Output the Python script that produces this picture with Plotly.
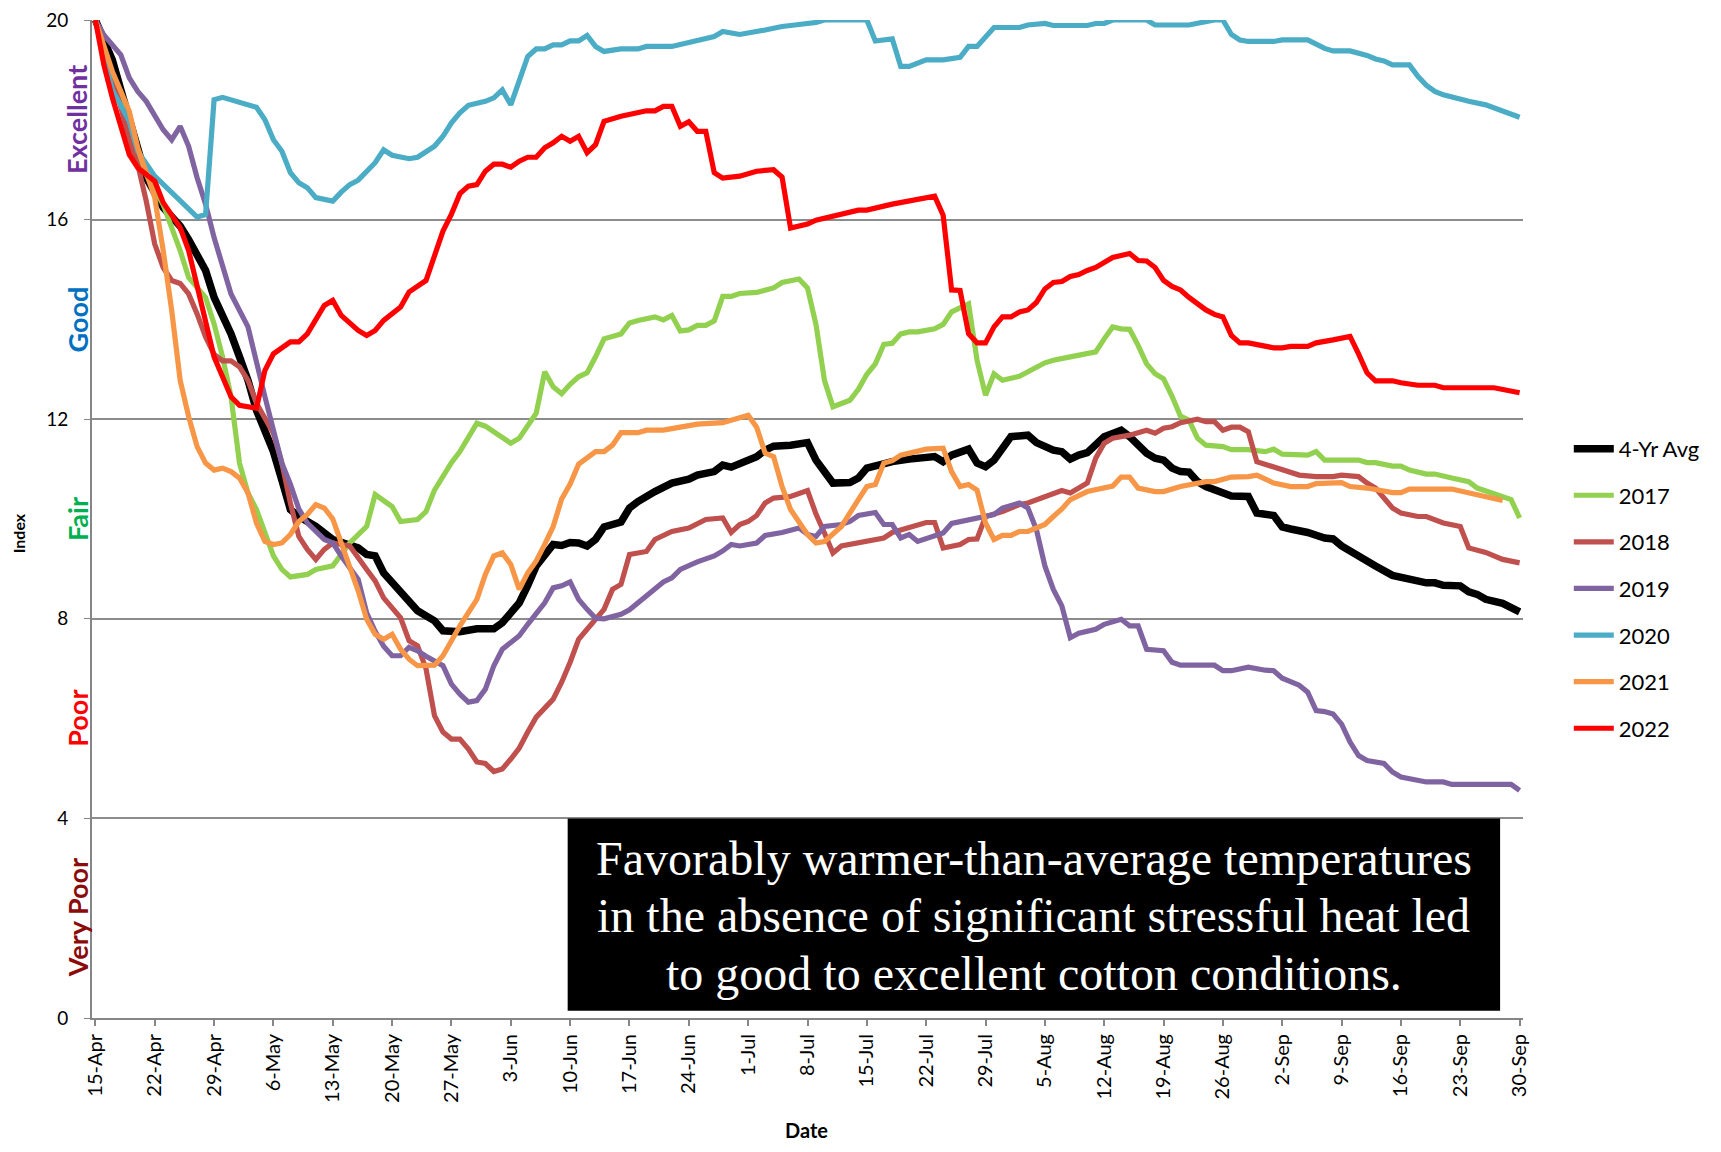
import plotly.graph_objects as go
import pandas as pd

# ---------------- data: (days since 15-Apr, index value) ----------------
avg_pts = [(0,20),(2,19.2),(3,18.6),(5,17.5),(6,16.84),(8,16.24),(10,15.87),(11,15.6),(12,15.25),(13,14.98),(14,14.44),(16,13.71),(17,13.25),(18,12.78),(19,12.18),(20,11.78),(21,11.35),(22,10.78),(23,10.19),(24,10.05),(26,9.85),(28,9.59),(29,9.52),(31,9.42),(32,9.29),(33,9.26),(34,8.92),(36,8.52),(37,8.32),(38,8.16),(40,7.96),(41,7.76),(43,7.74),(45,7.8),(47,7.8),(48,7.92),(49,8.12),(50,8.32),(51,8.67),(52,9.06),(54,9.49),(55,9.47),(56,9.53),(57,9.52),(58,9.46),(59,9.59),(60,9.84),(61,9.89),(62,9.94),(63,10.22),(64,10.35),(66,10.55),(68,10.72),(70,10.8),(71,10.88),(73,10.95),(74,11.08),(75,11.04),(76,11.12),(78,11.25),(79,11.38),(80,11.46),(82,11.48),(84,11.53),(85,11.18),(87,10.72),(89,10.73),(90,10.82),(91,11.02),(93,11.12),(94,11.15),(96,11.2),(98,11.22),(99,11.25),(100,11.15),(101,11.28),(103,11.4),(104,11.12),(105,11.05),(106,11.18),(108,11.65),(110,11.68),(111,11.53),(113,11.38),(114,11.35),(115,11.2),(116,11.28),(117,11.33),(119,11.65),(121,11.78),(122,11.65),(124,11.32),(125,11.22),(126,11.18),(127,11.02),(128,10.95),(129,10.94),(130,10.75),(131,10.65),(133,10.52),(134,10.46),(136,10.45),(137,10.12),(139,10.07),(140,9.84),(141,9.8),(143,9.73),(145,9.62),(146,9.6),(147,9.46),(149,9.24),(151,9.06),(153,8.87),(155,8.79),(157,8.72),(158,8.72),(159,8.67),(161,8.66),(162,8.54),(163,8.49),(164,8.39),(166,8.31),(168,8.14)]

y2017_pts = [(0,20),(2,18.9),(4,17.8),(6,16.9),(8,16.3),(10,15.38),(11,14.84),(13,14.44),(14,13.91),(15,13.25),(16,12.45),(17,11.12),(18,10.52),(19,10.19),(20,9.7),(21,9.26),(22,8.99),(23,8.84),(25,8.89),(26,8.99),(28,9.06),(30,9.52),(32,9.85),(33,10.49),(35,10.25),(36,9.95),(38,9.99),(39,10.15),(40,10.58),(41,10.88),(42,11.13),(43,11.35),(45,11.92),(46,11.86),(48,11.62),(49,11.52),(50,11.62),(52,12.12),(53,12.95),(54,12.65),(55,12.51),(56,12.7),(57,12.85),(58,12.93),(59,13.25),(60,13.61),(62,13.71),(63,13.93),(64,13.98),(66,14.05),(67,13.99),(68,14.08),(69,13.77),(70,13.79),(71,13.88),(72,13.88),(73,13.97),(74,14.46),(75,14.46),(76,14.52),(78,14.54),(80,14.63),(81,14.74),(83,14.81),(84,14.63),(85,13.9),(86,12.78),(87,12.25),(89,12.38),(90,12.6),(91,12.9),(92,13.11),(93,13.5),(94,13.52),(95,13.71),(96,13.75),(97,13.75),(99,13.81),(100,13.9),(101,14.15),(103,14.31),(104,13.18),(105,12.48),(106,12.91),(107,12.78),(109,12.86),(112,13.13),(113,13.18),(115,13.25),(118,13.35),(119,13.61),(120,13.85),(121,13.81),(122,13.8),(123,13.48),(124,13.11),(125,12.91),(126,12.81),(127,12.46),(128,12.06),(129,11.98),(130,11.62),(131,11.48),(133,11.45),(134,11.39),(136,11.39),(138,11.35),(139,11.4),(140,11.3),(143,11.28),(144,11.35),(145,11.18),(149,11.18),(150,11.13),(151,11.13),(153,11.06),(154,11.06),(155,10.98),(157,10.9),(158,10.9),(160,10.82),(162,10.75),(163,10.62),(165,10.5),(166,10.46),(167,10.39),(168,10.02)]

y2018_pts = [(0,20),(2,18.9),(4,17.6),(5,17.1),(6,16.37),(7,15.51),(8,15.04),(9,14.78),(10,14.72),(11,14.51),(12,14.11),(13,13.65),(14,13.3),(15,13.17),(16,13.17),(17,13.05),(18,12.78),(19,12.32),(21,11.72),(22,11.12),(23,10.32),(24,9.65),(25,9.39),(26,9.19),(27,9.39),(28,9.52),(29,9.49),(30,9.46),(32,8.99),(33,8.76),(34,8.42),(36,8.02),(37,7.56),(38,7.46),(39,7.0),(40,6.06),(41,5.73),(42,5.59),(43,5.59),(44,5.39),(45,5.13),(46,5.1),(47,4.94),(48,4.99),(49,5.19),(50,5.41),(51,5.73),(52,6.03),(54,6.39),(55,6.73),(56,7.13),(57,7.59),(58,7.79),(60,8.19),(61,8.59),(62,8.69),(63,9.29),(65,9.35),(66,9.59),(68,9.75),(70,9.82),(72,9.99),(74,10.02),(75,9.73),(76,9.89),(77,9.95),(78,10.07),(79,10.32),(80,10.42),(82,10.45),(84,10.57),(85,10.1),(86,9.72),(87,9.32),(88,9.46),(90,9.52),(93,9.62),(94,9.73),(96,9.82),(98,9.93),(99,9.93),(100,9.42),(102,9.49),(103,9.59),(104,9.6),(105,10.05),(107,10.15),(109,10.29),(110,10.32),(113,10.52),(114,10.57),(115,10.52),(117,10.72),(118,11.22),(119,11.52),(120,11.62),(122,11.68),(124,11.78),(125,11.72),(126,11.82),(127,11.85),(128,11.93),(130,12.0),(131,11.95),(132,11.95),(133,11.78),(134,11.84),(135,11.84),(136,11.75),(137,11.15),(138,11.1),(140,10.98),(141,10.95),(142,10.88),(144,10.85),(146,10.85),(147,10.88),(149,10.85),(150,10.72),(151,10.62),(152,10.42),(153,10.22),(154,10.12),(156,10.05),(157,10.05),(158,9.99),(159,9.92),(161,9.85),(162,9.42),(164,9.33),(165,9.26),(166,9.19),(168,9.12)]

y2019_pts = [(0,20),(1,19.7),(3,19.3),(4,18.84),(5,18.57),(6,18.37),(8,17.8),(9,17.6),(10,17.87),(11,17.47),(12,16.84),(13,16.31),(14,15.64),(15,15.04),(16,14.51),(18,13.85),(19,13.11),(20,12.45),(21,11.78),(22,11.12),(23,10.7),(24,10.2),(25,9.92),(27,9.59),(28,9.52),(29,9.26),(31,8.79),(32,8.12),(33,7.75),(34,7.45),(35,7.26),(36,7.26),(37,7.43),(38,7.36),(39,7.25),(41,7.06),(42,6.69),(43,6.49),(44,6.33),(45,6.36),(46,6.59),(47,7.06),(48,7.39),(50,7.66),(51,7.89),(52,8.12),(53,8.32),(54,8.62),(55,8.66),(56,8.74),(57,8.39),(58,8.19),(59,8.01),(60,8.0),(62,8.09),(63,8.18),(65,8.46),(67,8.74),(68,8.82),(69,8.99),(71,9.14),(73,9.26),(74,9.36),(75,9.49),(76,9.46),(78,9.52),(79,9.67),(81,9.73),(83,9.82),(84,9.69),(85,9.65),(86,9.85),(88,9.89),(89,9.95),(90,10.07),(92,10.13),(93,9.89),(94,9.89),(95,9.62),(96,9.69),(97,9.55),(99,9.65),(100,9.72),(101,9.91),(103,9.99),(106,10.09),(107,10.22),(109,10.32),(110,10.22),(111,9.79),(112,9.06),(113,8.59),(114,8.26),(115,7.62),(116,7.71),(118,7.79),(119,7.89),(121,7.99),(122,7.86),(123,7.86),(124,7.39),(126,7.36),(127,7.13),(128,7.07),(132,7.07),(133,6.96),(134,6.96),(136,7.03),(138,6.97),(139,6.96),(140,6.81),(141,6.73),(142,6.67),(143,6.53),(144,6.16),(145,6.14),(146,6.09),(147,5.89),(148,5.53),(149,5.26),(150,5.16),(152,5.1),(153,4.93),(154,4.83),(157,4.73),(159,4.73),(160,4.68),(167,4.68),(168,4.56)]

y2020_pts = [(0,20),(2,18.6),(4,17.97),(5,17.37),(7,16.87),(12,16.05),(13,16.1),(14,18.4),(15,18.45),(17,18.35),(19,18.25),(20,18.0),(21,17.6),(22,17.37),(23,16.94),(24,16.74),(25,16.64),(26,16.44),(28,16.37),(29,16.55),(30,16.7),(31,16.79),(32,16.97),(33,17.14),(34,17.4),(35,17.29),(37,17.22),(38,17.25),(40,17.47),(41,17.67),(42,17.94),(43,18.14),(44,18.29),(46,18.37),(47,18.44),(48,18.6),(49,18.3),(51,19.27),(52,19.42),(53,19.42),(54,19.5),(55,19.5),(56,19.58),(57,19.58),(58,19.69),(59,19.47),(60,19.37),(62,19.42),(64,19.42),(65,19.47),(68,19.47),(70,19.55),(71,19.57),(73,19.67),(74,19.77),(76,19.71),(79,19.8),(81,19.87),(83,19.91),(85,19.95),(86,20),(91,20),(92,19.58),(94,19.62),(95,19.07),(96,19.07),(98,19.2),(100,19.2),(102,19.25),(103,19.47),(104,19.47),(105,19.65),(106,19.85),(109,19.85),(110,19.9),(112,19.93),(113,19.89),(117,19.89),(118,19.93),(119,19.93),(120,20),(124,20),(125,19.9),(129,19.9),(130,19.93),(132,20),(133,20),(134,19.71),(135,19.6),(136,19.57),(139,19.57),(140,19.6),(143,19.6),(144,19.51),(145,19.43),(146,19.38),(148,19.38),(150,19.29),(151,19.22),(152,19.18),(153,19.1),(155,19.1),(156,18.87),(157,18.69),(158,18.57),(159,18.5),(160,18.45),(162,18.37),(164,18.3),(165,18.24),(166,18.16),(167,18.12),(168,18.05)]

y2021_pts = [(0,20),(2,18.97),(3,18.57),(4,18.17),(5,17.44),(6,16.91),(7,16.44),(8,15.38),(9,14.18),(10,12.78),(11,12.05),(12,11.45),(13,11.12),(14,10.98),(15,11.02),(16,10.95),(17,10.82),(18,10.52),(19,9.92),(20,9.55),(21,9.49),(22,9.52),(23,9.69),(24,9.95),(25,10.09),(26,10.29),(27,10.22),(28,10.0),(29,9.52),(30,9.02),(31,8.56),(32,7.99),(33,7.69),(34,7.59),(35,7.69),(36,7.39),(37,7.19),(38,7.06),(40,7.07),(41,7.26),(42,7.56),(43,7.86),(45,8.39),(46,8.89),(47,9.26),(48,9.32),(49,9.09),(50,8.59),(51,8.92),(52,9.16),(53,9.49),(54,9.85),(55,10.4),(56,10.7),(57,11.1),(59,11.35),(60,11.35),(61,11.48),(62,11.73),(64,11.73),(65,11.78),(67,11.78),(69,11.84),(71,11.9),(74,11.93),(76,12.02),(77,12.08),(78,11.84),(79,11.32),(80,11.25),(81,10.65),(82,10.19),(83,9.95),(84,9.69),(85,9.52),(86,9.55),(88,9.85),(89,10.1),(90,10.39),(91,10.65),(92,10.69),(93,11.12),(94,11.17),(95,11.28),(97,11.35),(98,11.4),(100,11.42),(101,10.95),(102,10.65),(103,10.69),(104,10.58),(105,9.92),(106,9.59),(107,9.67),(108,9.67),(109,9.75),(110,9.75),(112,9.89),(113,10.05),(114,10.2),(115,10.39),(117,10.55),(120,10.66),(121,10.84),(122,10.84),(123,10.62),(125,10.55),(126,10.55),(128,10.65),(131,10.75),(132,10.75),(134,10.84),(136,10.85),(137,10.88),(139,10.72),(141,10.65),(143,10.65),(144,10.71),(147,10.73),(148,10.65),(150,10.62),(153,10.53),(154,10.53),(155,10.6),(160,10.6),(163,10.49),(166,10.37)]

y2022_pts = [(0,20),(1,19.1),(2,18.44),(3,17.9),(4,17.3),(5,17.04),(7,16.77),(8,16.34),(10,15.84),(11,15.38),(12,14.64),(13,13.91),(14,13.25),(15,12.85),(16,12.45),(17,12.28),(19,12.22),(20,12.98),(21,13.31),(23,13.55),(24,13.55),(25,13.71),(26,13.98),(27,14.28),(28,14.38),(29,14.08),(31,13.78),(32,13.68),(33,13.78),(34,13.98),(36,14.25),(37,14.55),(39,14.78),(40,15.24),(41,15.77),(42,16.11),(43,16.52),(44,16.67),(45,16.7),(46,16.97),(47,17.11),(48,17.11),(49,17.05),(50,17.17),(51,17.25),(52,17.25),(53,17.44),(54,17.54),(55,17.67),(56,17.57),(57,17.67),(58,17.34),(59,17.5),(60,17.97),(62,18.07),(65,18.18),(66,18.18),(67,18.27),(68,18.27),(69,17.87),(70,17.96),(71,17.77),(72,17.77),(73,16.94),(74,16.83),(76,16.87),(78,16.97),(80,17.0),(81,16.85),(82,15.83),(84,15.91),(85,15.99),(88,16.11),(90,16.19),(91,16.19),(94,16.31),(99,16.47),(100,16.09),(101,14.59),(102,14.58),(103,13.71),(104,13.53),(105,13.53),(106,13.85),(107,14.05),(108,14.05),(109,14.15),(110,14.19),(111,14.34),(112,14.61),(113,14.74),(114,14.76),(115,14.86),(116,14.9),(117,14.98),(118,15.04),(120,15.24),(122,15.32),(123,15.18),(124,15.17),(125,15.04),(126,14.78),(127,14.66),(128,14.59),(129,14.44),(131,14.19),(132,14.1),(133,14.05),(134,13.68),(135,13.53),(136,13.53),(139,13.43),(140,13.43),(141,13.46),(143,13.46),(144,13.53),(146,13.59),(148,13.66),(149,13.31),(150,12.93),(151,12.77),(153,12.77),(154,12.73),(156,12.68),(158,12.68),(159,12.63),(165,12.63),(168,12.53)]

series_names = ["4-Yr Avg", "2017", "2018", "2019", "2020", "2021", "2022"]
series_points = [avg_pts, y2017_pts, y2018_pts, y2019_pts, y2020_pts, y2021_pts, y2022_pts]
series_colors = ["#000000", "#92D050", "#C0504D", "#8064A2", "#4BACC6", "#F79646", "#FF0000"]
series_widths = [7.5, 5.2, 5.2, 5.2, 5.2, 5.2, 5.2]

condition_labels = ["Excellent", "Good", "Fair", "Poor", "Very Poor"]
condition_centers = [18, 14, 10, 6, 2]
condition_colors = ["#7030A0", "#0070C0", "#00B050", "#FF0000", "#8B0A0A"]

note_lines = ["Favorably warmer-than-average temperatures",
              "in the absence of significant stressful heat led",
              "to good to excellent cotton conditions."]
note_line_y = [0.1597, 0.1025, 0.0444]

start = pd.Timestamp("2022-04-15")

fig = go.Figure()
for name, pts, col, w in zip(series_names, series_points, series_colors, series_widths):
    xs = [start + pd.Timedelta(days=d) for d, _ in pts]
    ys = [v for _, v in pts]
    fig.add_trace(go.Scatter(x=xs, y=ys, mode="lines", name=name, legendgroup=name,
                             line=dict(color=col, width=w, shape="linear")))

FONT = "Lato, 'Liberation Sans', Arial, sans-serif"

fig.update_layout(
    width=1705, height=1136,
    margin=dict(l=84, r=190, t=12, b=126, autoexpand=False),
    paper_bgcolor="white", plot_bgcolor="white",
    font=dict(family=FONT, size=18, color="black"),
    showlegend=True,
    legend=dict(x=1.032, xanchor="left", y=0.43, yanchor="middle",
                font=dict(family=FONT, size=22, color="black"),
                tracegroupgap=15, bgcolor="rgba(0,0,0,0)", itemwidth=40),
)

fig.update_xaxes(
    type="date", automargin=False,
    range=[start - pd.Timedelta(hours=9.6), start + pd.Timedelta(days=168, hours=9.6)],
    tick0=start, dtick=7 * 86400000, tickformat="%-d-%b", tickangle=-90,
    tickfont=dict(family=FONT, size=20, color="black"),
    showgrid=False, showline=True, linecolor="#868686", linewidth=2,
    ticks="outside", ticklen=6, tickcolor="#868686", tickwidth=1.5,
    zeroline=False, ticklabeloverflow="allow",
)
fig.update_yaxes(
    range=[0, 20], dtick=4, tick0=0, automargin=False,
    tickfont=dict(family=FONT, size=19, color="black"),
    showgrid=True, gridcolor="#8C8C8C", gridwidth=2,
    showline=True, linecolor="#868686", linewidth=2,
    ticks="outside", ticklen=6, tickcolor="#868686",
    zeroline=False, ticklabeloverflow="allow", ticklabelstandoff=12,
)

for lab, c, col in zip(condition_labels, condition_centers, condition_colors):
    fig.add_annotation(x=-0.0104, xref="paper", y=c, yref="y", text="<b>%s</b>" % lab,
                       textangle=-90, showarrow=False,
                       font=dict(family=FONT, size=27, color=col),
                       xanchor="center", yanchor="middle")

fig.add_annotation(x=-0.0508, xref="paper", y=0.486, yref="paper", text="<b>Index</b>",
                   textangle=-90, showarrow=False, xanchor="center", yanchor="middle",
                   font=dict(family=FONT, size=16, color="black"))
fig.add_annotation(x=0.4994, xref="paper", y=-0.1125, yref="paper", text="<b>Date</b>",
                   showarrow=False, xanchor="center", yanchor="middle",
                   font=dict(family=FONT, size=20, color="black"))

# black note box
fig.add_shape(type="rect", xref="paper", yref="paper", x0=0.3324, x1=0.984, y0=0.0072, y1=0.2,
              fillcolor="black", line=dict(width=0), layer="above")
for line_text, ly in zip(note_lines, note_line_y):
    fig.add_annotation(x=0.658, xref="paper", y=ly, yref="paper", text=line_text,
                       showarrow=False, xanchor="center", yanchor="middle",
                       font=dict(family="'Liberation Serif', 'Times New Roman', serif", size=48, color="white"))

fig.write_html("out.html")
